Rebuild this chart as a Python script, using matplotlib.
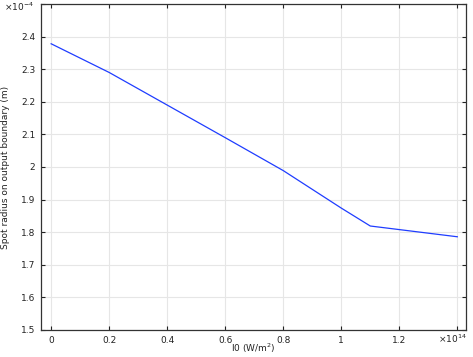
import matplotlib
matplotlib.use("Agg")
import matplotlib.pyplot as plt
from matplotlib.ticker import FuncFormatter

# I0 (W/m^2) and spot radius (m)
intensity = [0, 0.2e14, 0.4e14, 0.6e14, 0.8e14, 1.0e14, 1.1e14, 1.2e14, 1.3e14, 1.4e14]
radius = [2.378e-4, 2.290e-4, 2.190e-4, 2.090e-4, 1.989e-4, 1.874e-4, 1.819e-4,
          1.808e-4, 1.797e-4, 1.786e-4]

xticks = [0, 0.2e14, 0.4e14, 0.6e14, 0.8e14, 1.0e14, 1.2e14, 1.4e14]
yticks = [1.5e-4, 1.6e-4, 1.7e-4, 1.8e-4, 1.9e-4, 2.0e-4, 2.1e-4, 2.2e-4, 2.3e-4, 2.4e-4, 2.5e-4]

plt.rcParams['font.family'] = 'DejaVu Sans'
fig = plt.figure(figsize=(4.73, 3.57), dpi=100)
ax = fig.add_axes([41/473, 27/357, 425/473, 326/357])

ax.plot(intensity, radius, color='#1f3dff', linewidth=0.9)

ax.set_xlim(-0.035e14, 1.43e14)
ax.set_ylim(1.5e-4, 2.5e-4)
ax.set_xticks(xticks)
ax.set_yticks(yticks)


def fmt_x(v, pos):
    s = round(v / 1e14, 1)
    if abs(s - 1.4) < 1e-6:
        return ''
    return '%g' % s


def fmt_y(v, pos):
    s = round(v / 1e-4, 1)
    if abs(s - 2.5) < 1e-6:
        return ''
    return '%g' % s


ax.xaxis.set_major_formatter(FuncFormatter(fmt_x))
ax.yaxis.set_major_formatter(FuncFormatter(fmt_y))
ax.tick_params(direction='in', length=3, width=0.8, labelsize=6.5, colors='#222222',
               top=True, right=True, pad=4)
ax.grid(True, color='#e6e6e6', linewidth=0.8)
for s in ax.spines.values():
    s.set_color('#333333')
    s.set_linewidth(0.9)

txt = dict(fontsize=6.5, color='#222222')
fig.text(19/473, 1 - 7/357, r'$\times10^{-4}$', ha='center', va='center', **txt)
fig.text(452/473, 1 - 339/357, r'$\times10^{14}$', ha='center', va='center', **txt)
fig.text(253/473, 1 - 348/357, r'I0 (W/m$^2$)', ha='center', va='center', **txt)
fig.text(6/473, 1 - 167/357, 'Spot radius on output boundary (m)', ha='center',
         va='center', rotation=90, **txt)

fig.savefig('out.png', dpi=100)
